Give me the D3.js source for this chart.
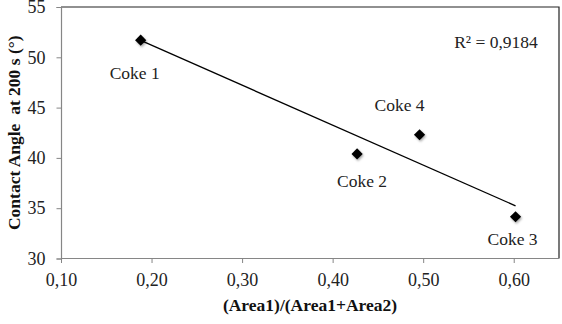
<!DOCTYPE html>
<html>
<head>
<meta charset="utf-8">
<script src="https://cdn.jsdelivr.net/npm/d3@7"></script>
<style>
  body { margin: 0; background: #fff; }
  svg text { font-family: "Liberation Serif", "Times New Roman", serif; }
</style>
</head>
<body>
<svg id="chart" width="562" height="324"></svg>
<script>
// data
var cokes = ['Coke 1', 'Coke 2', 'Coke 3', 'Coke 4'];
var areaRatio = [0.188, 0.427, 0.602, 0.496];
var contactAngle = [51.7, 40.4, 34.15, 42.3];
var xTicks = [0.10, 0.20, 0.30, 0.40, 0.50, 0.60];
var yTicks = [30, 35, 40, 45, 50, 55];
var rSquared = '0,9184';

// label offsets relative to the point (px)
var labelDx = [-6, 5, -3, -20];
var labelDy = [39, 33, 28, -24];

var svg = d3.select('#chart');
var padL = 61, padR = 559, padT = 7, padB = 258.5;

var x = d3.scaleLinear().domain([0.10, 0.65]).range([padL, padR]);
var y = d3.scaleLinear().domain([30, 55]).range([padB, padT]);

var fmt = function(d){ return d3.format('.2f')(d).replace('.', ','); };

// plot border (top and right)
svg.append('path')
	.attr('d', 'M ' + padL + ' ' + padT + ' H ' + padR + ' V ' + padB)
	.attr('stroke', '#222')
	.attr('stroke-width', 1.2)
	.attr('fill', 'none');

// axes
var yAxis = svg.append('g')
	.attr('transform', 'translate(' + padL + ',0)')
	.call(d3.axisLeft(y).tickValues(yTicks).tickSize(4.5).tickPadding(11));
var xAxis = svg.append('g')
	.attr('transform', 'translate(0,' + padB + ')')
	.call(d3.axisBottom(x).tickValues(xTicks).tickFormat(fmt).tickSize(4.5).tickPadding(10.5));

[yAxis, xAxis].forEach(function(ax){
	ax.attr('font-family', null).attr('font-size', null);
	ax.select('.domain').attr('stroke', '#868686').attr('stroke-width', 1.2);
	ax.selectAll('.tick line').attr('stroke', '#868686');
	ax.selectAll('.tick text')
		.attr('font-size', 18)
		.attr('fill', '#222');
});
xAxis.select('.domain').attr('d', 'M ' + padL + ' 0 H ' + padR);

// linear trendline by least squares
var n = areaRatio.length;
var mx = d3.mean(areaRatio), my = d3.mean(contactAngle);
var sxy = 0, sxx = 0;
for (var i = 0; i < n; i++){
	sxy += (areaRatio[i] - mx) * (contactAngle[i] - my);
	sxx += (areaRatio[i] - mx) * (areaRatio[i] - mx);
}
var slope = sxy / sxx, icpt = my - slope * mx;
var x0 = d3.min(areaRatio), x1 = d3.max(areaRatio);
svg.append('line')
	.attr('x1', x(x0)).attr('y1', y(icpt + slope * x0))
	.attr('x2', x(x1)).attr('y2', y(icpt + slope * x1))
	.attr('stroke', '#000')
	.attr('stroke-width', 1.3);

// shadow filter for markers
var defs = svg.append('defs');
var f = defs.append('filter').attr('id', 'shadow').attr('x', '-50%').attr('y', '-50%').attr('width', '200%').attr('height', '200%');
f.append('feDropShadow').attr('dx', 1).attr('dy', 1.5).attr('stdDeviation', 1.2).attr('flood-color', '#000').attr('flood-opacity', 0.35);

var pts = cokes.map(function(c, i){ return {name: c, x: areaRatio[i], y: contactAngle[i], dx: labelDx[i], dy: labelDy[i]}; });

svg.append('g').selectAll('path')
	.data(pts)
	.enter().append('path')
	.attr('d', d3.symbol().type(d3.symbolDiamond2).size(80))
	.attr('transform', function(d){ return 'translate(' + x(d.x) + ',' + y(d.y) + ')'; })
	.attr('fill', '#000')
	.attr('filter', 'url(#shadow)');

svg.append('g').selectAll('text')
	.data(pts)
	.enter().append('text')
	.attr('x', function(d){ return x(d.x) + d.dx; })
	.attr('y', function(d){ return y(d.y) + d.dy; })
	.attr('text-anchor', 'middle')
	.attr('font-size', 17.5)
	.attr('fill', '#222')
	.text(function(d){ return d.name; });

svg.append('text')
	.attr('x', 496).attr('y', 48)
	.attr('text-anchor', 'middle')
	.attr('font-size', 17.5)
	.attr('fill', '#222')
	.text('R² = ' + rSquared);

// axis titles
svg.append('text')
	.attr('x', 310).attr('y', 311)
	.attr('text-anchor', 'middle')
	.attr('font-size', 17.5)
	.attr('font-weight', 'bold')
	.attr('fill', '#111')
	.text('(Area1)/(Area1+Area2)');

svg.append('text')
	.attr('transform', 'translate(20,' + ((padT + padB) / 2) + ') rotate(-90)')
	.attr('text-anchor', 'middle')
	.attr('font-size', 17.5)
	.attr('font-weight', 'bold')
	.attr('fill', '#111')
	.style('white-space', 'pre')
	.text('Contact Angle  at 200 s (°)');
</script>
</body>
</html>
